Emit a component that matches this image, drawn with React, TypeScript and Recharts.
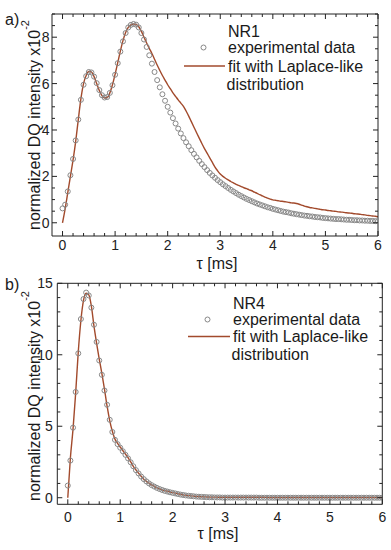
import React from "react";
import { ComposedChart, Line, Scatter, XAxis, YAxis } from "recharts";

// time grid (ms)
const TAU = [
  0, 0.05, 0.1, 0.15, 0.2, 0.25, 0.3, 0.35, 0.4, 0.45,
  0.5, 0.55, 0.6, 0.65, 0.7, 0.75, 0.8, 0.85, 0.9, 0.95,
  1, 1.05, 1.1, 1.15, 1.2, 1.25, 1.3, 1.35, 1.4, 1.45,
  1.5, 1.55, 1.6, 1.65, 1.7, 1.75, 1.8, 1.85, 1.9, 1.95,
  2, 2.05, 2.1, 2.15, 2.2, 2.25, 2.3, 2.35, 2.4, 2.45,
  2.5, 2.55, 2.6, 2.65, 2.7, 2.75, 2.8, 2.85, 2.9, 2.95,
  3, 3.05, 3.1, 3.15, 3.2, 3.25, 3.3, 3.35, 3.4, 3.45,
  3.5, 3.55, 3.6, 3.65, 3.7, 3.75, 3.8, 3.85, 3.9, 3.95,
  4, 4.05, 4.1, 4.15, 4.2, 4.25, 4.3, 4.35, 4.4, 4.45,
  4.5, 4.55, 4.6, 4.65, 4.7, 4.75, 4.8, 4.85, 4.9, 4.95,
  5, 5.05, 5.1, 5.15, 5.2, 5.25, 5.3, 5.35, 5.4, 5.45,
  5.5, 5.55, 5.6, 5.65, 5.7, 5.75, 5.8, 5.85, 5.9, 5.95,
  6,
];

// NR1
const EXP_A = [
  0.62, 0.78, 1.35, 2.05, 2.75, 3.55, 4.45, 5.3, 5.95, 6.32,
  6.5, 6.48, 6.3, 6.02, 5.72, 5.5, 5.4, 5.42, 5.6, 5.93,
  6.38, 6.88, 7.38, 7.82, 8.18, 8.42, 8.53, 8.57, 8.54, 8.42,
  8.18, 7.9, 7.58, 7.22, 6.86, 6.5, 6.15, 5.84, 5.54, 5.26,
  5.0, 4.75, 4.51, 4.28, 4.06, 3.85, 3.65, 3.47, 3.3, 3.13,
  2.97, 2.82, 2.67, 2.53, 2.4, 2.27, 2.15, 2.04, 1.94, 1.84,
  1.75, 1.66, 1.58, 1.5, 1.42, 1.35, 1.28, 1.21, 1.15, 1.09,
  1.03, 0.98, 0.93, 0.88, 0.83, 0.79, 0.75, 0.71, 0.67, 0.64,
  0.6, 0.57, 0.54, 0.51, 0.48, 0.46, 0.44, 0.41, 0.39, 0.37,
  0.35, 0.33, 0.31, 0.3, 0.28, 0.27, 0.25, 0.24, 0.23, 0.21,
  0.2, 0.19, 0.18, 0.17, 0.16, 0.16, 0.15, 0.14, 0.13, 0.13,
  0.12, 0.11, 0.11, 0.1, 0.1, 0.09, 0.09, 0.08, 0.08, 0.07,
  0.07,
];
const FIT_A = [
  0, 0.6, 1.3, 2.0, 2.7, 3.5, 4.45, 5.35, 6.0, 6.35,
  6.52, 6.5, 6.3, 6.0, 5.7, 5.48, 5.38, 5.4, 5.6, 5.95,
  6.4, 6.9, 7.4, 7.85, 8.2, 8.42, 8.53, 8.57, 8.55, 8.45,
  8.25, 8.0, 7.75, 7.52, 7.3, 7.05, 6.8, 6.57, 6.35, 6.15,
  5.95, 5.78, 5.6, 5.45, 5.3, 5.16, 5.02, 4.82, 4.6, 4.36,
  4.12, 3.88, 3.65, 3.42, 3.2, 3.0, 2.8, 2.6, 2.4, 2.24,
  2.1, 2.0, 1.92, 1.85, 1.78, 1.72, 1.66, 1.61, 1.56, 1.51,
  1.47, 1.42, 1.38, 1.32, 1.27, 1.21, 1.16, 1.11, 1.06, 1.02,
  0.99, 0.97, 0.95, 0.93, 0.92, 0.9, 0.88, 0.86, 0.85, 0.83,
  0.8, 0.76, 0.72, 0.69, 0.66, 0.64, 0.62, 0.6, 0.58, 0.56,
  0.55, 0.53, 0.52, 0.5, 0.49, 0.47, 0.46, 0.45, 0.43, 0.42,
  0.41, 0.39, 0.38, 0.37, 0.35, 0.34, 0.32, 0.31, 0.29, 0.28,
  0.26,
];

// NR4
const EXP_B = [
  0.85, 2.6, 4.9, 7.4, 10.1, 12.5, 13.9, 14.35, 14.15, 13.3,
  12.1, 10.9, 9.6, 8.6, 7.5, 6.5, 5.45, 4.6, 4.05, 3.75,
  3.5, 3.25, 3.0, 2.75, 2.48, 2.2, 1.93, 1.7, 1.48, 1.3,
  1.14, 1.0, 0.88, 0.78, 0.69, 0.61, 0.54, 0.48, 0.43, 0.38,
  0.34, 0.3, 0.26, 0.22, 0.19, 0.16, 0.14, 0.12, 0.1, 0.08,
  0.07, 0.06, 0.05, 0.04, 0.03, 0.03, 0.02, 0.02, 0.02, 0.01,
  0.01, 0.01, 0.01, 0.01, 0.01, 0.01, 0.01, 0.01, 0.01, 0.01,
  0.01, 0.01, 0.01, 0.0, 0.0, 0.0, 0.0, 0.0, 0.0, 0.0,
  0.0, 0.0, 0.0, 0.0, 0.0, 0.0, 0.0, 0.0, 0.0, 0.0,
  0.0, 0.0, 0.0, 0.0, 0.0, 0.0, 0.0, 0.0, 0.0, 0.0,
  0.0, 0.0, 0.0, 0.0, 0.0, 0.0, 0.0, 0.0, 0.0, 0.0,
  0.0, 0.0, 0.0, 0.0, 0.0, 0.0, 0.0, 0.0, 0.0, 0.0,
  0.0,
];
const FIT_B = [
  0, 2.8, 4.8, 7.3, 10.2, 12.4, 13.8, 14.3, 14.2, 13.4,
  12.0, 10.8, 9.7, 8.7, 7.6, 6.4, 5.4, 4.65, 4.1, 3.8,
  3.55, 3.3, 3.05, 2.8, 2.5, 2.2, 1.95, 1.72, 1.5, 1.3,
  1.15, 1.02, 0.9, 0.8, 0.7, 0.62, 0.55, 0.5, 0.45, 0.4,
  0.36, 0.32, 0.28, 0.24, 0.2, 0.17, 0.15, 0.13, 0.11, 0.09,
  0.08, 0.07, 0.06, 0.05, 0.05, 0.04, 0.04, 0.04, 0.03, 0.03,
  0.03, 0.03, 0.03, 0.03, 0.03, 0.03, 0.03, 0.03, 0.03, 0.03,
  0.03, 0.03, 0.03, 0.03, 0.03, 0.03, 0.02, 0.02, 0.02, 0.02,
  0.02, 0.02, 0.02, 0.02, 0.02, 0.02, 0.02, 0.02, 0.02, 0.02,
  0.02, 0.02, 0.02, 0.02, 0.02, 0.02, 0.02, 0.02, 0.02, 0.02,
  0.02, 0.02, 0.02, 0.02, 0.02, 0.02, 0.02, 0.02, 0.02, 0.02,
  0.02, 0.02, 0.02, 0.02, 0.02, 0.02, 0.02, 0.02, 0.02, 0.02,
  0.02,
];

const X_MAJOR = [0, 1, 2, 3, 4, 5, 6];
const X_ALL = [
  0, 0.2, 0.4, 0.6, 0.8, 1, 1.2, 1.4, 1.6, 1.8, 2, 2.2, 2.4, 2.6, 2.8, 3,
  3.2, 3.4, 3.6, 3.8, 4, 4.2, 4.4, 4.6, 4.8, 5, 5.2, 5.4, 5.6, 5.8, 6,
];
const YA_MAJOR = [0, 2, 4, 6, 8];
const YA_ALL = [0, 0.5, 1, 1.5, 2, 2.5, 3, 3.5, 4, 4.5, 5, 5.5, 6, 6.5, 7, 7.5, 8, 8.5, 9];
const YB_MAJOR = [0, 5, 10, 15];
const YB_ALL = [0, 1, 2, 3, 4, 5, 6, 7, 8, 9, 10, 11, 12, 13, 14, 15];

const AXIS = "#222";
const FIT_COLOR = "#a24a2c";
const DOT_COLOR = "#888";
const FONT = "'Liberation Sans', Arial, sans-serif";

const zip = (ys: number[]) => TAU.map((t, i) => ({ t, v: ys[i] }));

type Side = "bottom" | "top" | "left" | "right";

// ticks point inward; x/y arrive at the axis line because tickSize and tickMargin are 0
const makeTick = (side: Side, majors: number[], labels: boolean, gap: number) => (props: any) => {
  const { x, y, payload } = props;
  const v = payload.value;
  const major = majors.some((m) => Math.abs(m - v) < 1e-6);
  const len = major ? 5 : 3;
  let x2 = x;
  let y2 = y;
  if (side === "bottom") y2 = y - len;
  if (side === "top") y2 = y + len;
  if (side === "left") x2 = x + len;
  if (side === "right") x2 = x - len;
  return (
    <g>
      <line x1={x} y1={y} x2={x2} y2={y2} stroke={AXIS} strokeWidth={1} />
      {labels && major && side === "bottom" && (
        <text x={x} y={y + gap} textAnchor="middle" fontSize={14} fontFamily={FONT} fill={AXIS}>
          {v}
        </text>
      )}
      {labels && major && side === "left" && (
        <text x={x - gap} y={y + 5} textAnchor="end" fontSize={14} fontFamily={FONT} fill={AXIS}>
          {v}
        </text>
      )}
    </g>
  );
};

const Dot = (p: any) => <circle cx={p.cx} cy={p.cy} r={2.5} fill="none" stroke={DOT_COLOR} strokeWidth={1} />;

function Panel(props: {
  exp: number[];
  fit: number[];
  height: number;
  margin: any;
  yDomain: number[];
  yAll: number[];
  yMajor: number[];
  xGap: number;
  yGap: number;
}) {
  const expData = zip(props.exp);
  const fitData = zip(props.fit);
  const common = {
    type: "number" as const,
    allowDataOverflow: true,
    interval: 0 as const,
    tickSize: 0,
    tickMargin: 0,
    tickLine: false,
    axisLine: { stroke: AXIS, strokeWidth: 1 },
  };
  return (
    <ComposedChart width={391} height={props.height} margin={props.margin} data={expData}>
      <XAxis {...common} xAxisId="b" dataKey="t" domain={[-0.2, 6]} ticks={X_ALL} height={1} tick={makeTick("bottom", X_MAJOR, true, props.xGap)} />
      <XAxis {...common} xAxisId="t" orientation="top" dataKey="t" domain={[-0.2, 6]} ticks={X_ALL} height={1} tick={makeTick("top", X_MAJOR, false, 0)} />
      <YAxis {...common} yAxisId="l" dataKey="v" domain={props.yDomain} ticks={props.yAll} width={1} tick={makeTick("left", props.yMajor, true, props.yGap)} />
      <YAxis {...common} yAxisId="r" orientation="right" dataKey="v" domain={props.yDomain} ticks={props.yAll} width={1} tick={makeTick("right", props.yMajor, false, 0)} />
      <Scatter xAxisId="b" yAxisId="l" data={expData} dataKey="v" shape={Dot} isAnimationActive={false} />
      <Line xAxisId="b" yAxisId="l" data={fitData} dataKey="v" type="monotone" dot={false} stroke={FIT_COLOR} strokeWidth={1.4} isAnimationActive={false} />
    </ComposedChart>
  );
}

const txt = { fontFamily: FONT, fontSize: 16, fill: "#1a1a1a" };

function YTitle({ cy }: { cy: number }) {
  return (
    <text transform={`translate(39.5,${cy}) rotate(-90)`} textAnchor="middle" {...txt}>
      normalized DQ intensity x10
      <tspan dy={-11} fontSize={11}>
        -2
      </tspan>
    </text>
  );
}

function LegendBox(p: { x: number; name: string; lineX: number; dotX: number; ys: number[] }) {
  const [yName, yExp, yFit, yDist] = p.ys;
  return (
    <g>
      <text x={p.x} y={yName} {...txt}>{p.name}</text>
      <circle cx={p.dotX} cy={yExp - 5.5} r={2.5} fill="none" stroke={DOT_COLOR} strokeWidth={1} />
      <text x={p.x} y={yExp} {...txt}>experimental data</text>
      <line x1={p.lineX} y1={yFit - 5.5} x2={p.x - 3} y2={yFit - 5.5} stroke={FIT_COLOR} strokeWidth={1.4} />
      <text x={p.x} y={yFit} {...txt}>fit with Laplace-like</text>
      <text x={p.x - 1.5} y={yDist} {...txt}>distribution</text>
    </g>
  );
}

export default function App() {
  return (
    <div style={{ position: "absolute", left: 0, top: 0, width: 391, height: 550, background: "#fff" }}>
      <div style={{ position: "absolute", left: 0, top: 0 }}>
        <Panel exp={EXP_A} fit={FIT_A} height={270} margin={{ top: 13, right: 12, bottom: 33, left: 51 }} yDomain={[-0.57, 9]} yAll={YA_ALL} yMajor={YA_MAJOR} xGap={14} yGap={2.5} />
      </div>
      <div style={{ position: "absolute", left: 0, top: 270 }}>
        <Panel exp={EXP_B} fit={FIT_B} height={280} margin={{ top: 12.3, right: 7.7, bottom: 44.7, left: 56.3 }} yDomain={[-0.46, 15]} yAll={YB_ALL} yMajor={YB_MAJOR} xGap={17.4} yGap={4.5} />
      </div>
      <svg width={391} height={550} style={{ position: "absolute", left: 0, top: 0, pointerEvents: "none" }}>
        <text x={5} y={25} {...txt}>a)</text>
        <YTitle cy={125} />
        <text x={217} y={269} textAnchor="middle" {...txt}>τ [ms]</text>
        <LegendBox x={228} name="NR1" lineX={184} dotX={203.5} ys={[36.5, 53, 71.5, 89.5]} />

        <text x={5} y={290} {...txt}>b)</text>
        <YTitle cy={396} />
        <text x={218} y={539} textAnchor="middle" {...txt}>τ [ms]</text>
        <LegendBox x={233} name="NR4" lineX={188} dotX={207.5} ys={[308.5, 325, 342, 360]} />
      </svg>
    </div>
  );
}
